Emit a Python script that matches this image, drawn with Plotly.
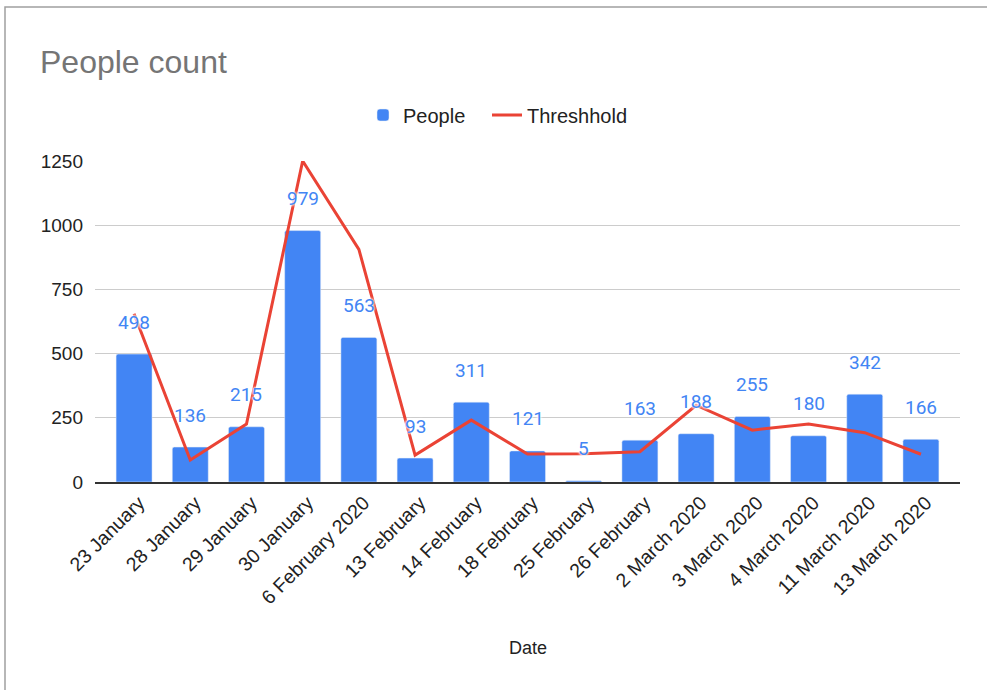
import plotly.graph_objects as go

dates = [
    "23 January", "28 January", "29 January", "30 January", "6 February 2020",
    "13 February", "14 February", "18 February", "25 February", "26 February",
    "2 March 2020", "3 March 2020", "4 March 2020", "11 March 2020", "13 March 2020",
]
people = [498, 136, 215, 979, 563, 93, 311, 121, 5, 163, 188, 255, 180, 342, 166]
threshold = [655, 86, 226, 1250, 906, 105, 241, 109, 110, 118, 299, 202, 226, 192, 108]

BLUE = "#4285F4"
RED = "#EA4335"

# plot area in pixels
ML, MR, MT, MB = 95, 27, 161, 208
PW = 987 - ML - MR
PH = 690 - MT - MB
XPAD = 0.195  # extra room at both ends of the category axis

fig = go.Figure()

fig.add_trace(
    go.Bar(
        x=dates,
        y=people,
        name="People",
        marker=dict(color=BLUE, cornerradius=2),
        legend="legend",
    )
)
fig.add_trace(
    go.Scatter(
        x=dates,
        y=threshold,
        name="Threshhold",
        mode="lines",
        line=dict(color=RED, width=3),
        cliponaxis=False,
        legend="legend2",
    )
)

# value labels above the bars
for d, v in zip(dates, people):
    fig.add_annotation(
        x=d, y=v, yshift=32, text=str(v), showarrow=False,
        font=dict(family="Roboto", size=19, color=BLUE,
                  shadow="0 0 3px white, 0 0 3px white, 0 0 2px white"),
    )

fig.add_annotation(
    xref="paper", yref="paper", x=0.5, y=(0 - (648 - 482)) / PH,
    text="Date", showarrow=False, yanchor="middle",
    font=dict(family="Arial", size=18, color="#222222"),
)

# chart frame
fig.add_shape(
    type="rect", xref="paper", yref="paper",
    x0=(5 - ML) / PW, x1=1.5, y0=-1.0, y1=(482 - 7) / PH,
    line=dict(color="#a0a0a0", width=1.5), layer="below",
)

legend_style = dict(
    orientation="h", xanchor="left", yanchor="middle",
    y=(482 - 115) / PH, font=dict(size=20, color="#222222"),
)

fig.update_layout(
    width=987,
    height=690,
    margin=dict(l=ML, r=MR, t=MT, b=MB),
    paper_bgcolor="white",
    plot_bgcolor="white",
    font=dict(family="Arial", size=18, color="#222222"),
    title=dict(
        text="People count", xref="container", yref="container",
        x=40 / 987, xanchor="left", y=1 - 62 / 690, yanchor="middle",
        font=dict(family="Arial", size=32, color="#757575"),
    ),
    bargap=0.36,
    showlegend=True,
    legend=dict(x=(363 - ML) / PW, **legend_style),
    legend2=dict(x=(487 - ML) / PW, **legend_style),
    xaxis=dict(
        range=[-0.5 - XPAD, len(dates) - 0.5 + XPAD],
        tickangle=-45, showgrid=False, showline=True, linecolor="#333333",
        linewidth=1.5, ticks="", tickfont=dict(size=19.5), ticklabelshift=5,
    ),
    yaxis=dict(
        range=[0, 1250], tickvals=[0, 250, 500, 750, 1000, 1250],
        showgrid=True, gridcolor="#cccccc", gridwidth=1,
        zeroline=False, showline=False, ticks="", ticklabelstandoff=11,
        tickfont=dict(size=19),
    ),
)

fig.write_html(
    "out.html",
    config={"displayModeBar": False},
    post_script="document.body.style.margin = '0px';",
)
